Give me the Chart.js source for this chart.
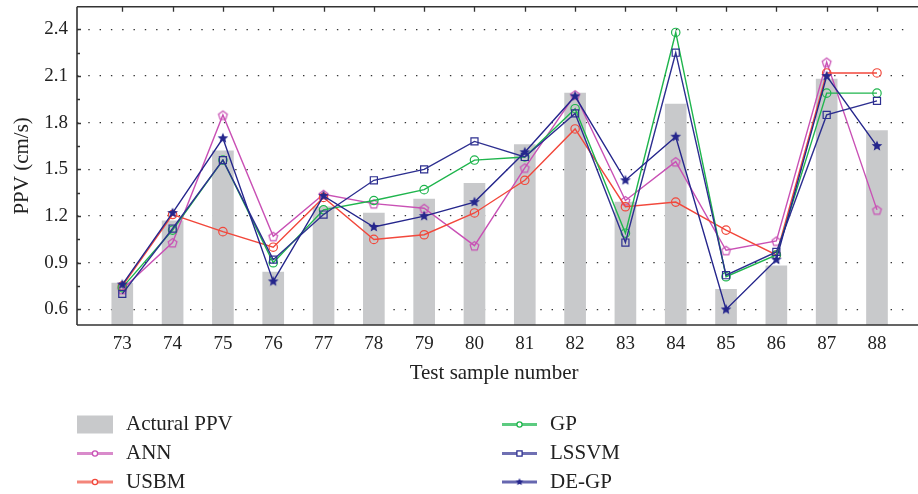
<!DOCTYPE html>
<html>
<head>
<meta charset="utf-8">
<script src="https://cdn.jsdelivr.net/npm/chart.js@4.4.1/dist/chart.umd.min.js"></script>
<style>
html,body{margin:0;padding:0;background:#fff;}
#wrap{width:918px;height:494px;position:relative;}
</style>
</head>
<body>
<div id="wrap"><canvas id="c" width="918" height="494"></canvas></div>
<script>
// ---- data ----
const samples = [73,74,75,76,77,78,79,80,81,82,83,84,85,86,87,88];
const actualPPV = [0.77,1.17,1.62,0.84,1.26,1.22,1.31,1.41,1.66,1.99,1.29,1.92,0.73,0.88,2.08,1.75];
const ann   = [0.73,1.03,1.85,1.07,1.34,1.28,1.25,1.01,1.51,1.98,1.30,1.55,0.98,1.04,2.19,1.24];
const usbm  = [0.75,1.21,1.10,1.00,1.32,1.05,1.08,1.22,1.43,1.76,1.26,1.29,1.11,0.95,2.12,2.12];
const gp    = [0.74,1.11,1.56,0.90,1.24,1.30,1.37,1.56,1.58,1.89,1.09,2.38,0.81,0.95,1.99,1.99];
const lssvm = [0.70,1.12,1.56,0.92,1.21,1.43,1.50,1.68,1.58,1.86,1.03,2.25,0.82,0.97,1.85,1.94];
const degp  = [0.76,1.22,1.70,0.78,1.33,1.13,1.20,1.29,1.61,1.97,1.43,1.71,0.60,0.92,2.10,1.65];
const yTicks = [0.6,0.9,1.2,1.5,1.8,2.1,2.4];
const yMinorTicks = [0.75,1.05,1.35,1.65,1.95,2.25];
const legendLabels = ['Actural PPV','ANN','USBM','GP','LSSVM','DE-GP'];

const FONT = '"Liberation Serif", "Times New Roman", serif';
const C = {
  bar:'#c8c9cb', ann:'#c951b5', usbm:'#f2483c', gp:'#1fb54d', lssvm:'#2d2f90', degp:'#25268c'
};
const CL = {ann:'#d98bcb', usbm:'#f4857a', gp:'#5ccb80', lssvm:'#6f70b3', degp:'#6667b0'};

function pts(arr){ return samples.map((x,i)=>({x:x,y:arr[i]})); }

function makeStar(color, R){
  const s = Math.ceil(R*2+2), cv = document.createElement('canvas');
  cv.width = s; cv.height = s;
  const g = cv.getContext('2d'); g.fillStyle = color; g.beginPath();
  for(let i=0;i<10;i++){
    const r = i%2===0 ? R : R*0.45;
    const a = -Math.PI/2 + i*Math.PI/5;
    const px = s/2 + r*Math.cos(a), py = s/2 + r*Math.sin(a);
    if(i===0) g.moveTo(px,py); else g.lineTo(px,py);
  }
  g.closePath(); g.fill();
  return cv;
}
function makePentagon(color, R){
  const s = Math.ceil(R*2+3), cv = document.createElement('canvas');
  cv.width = s; cv.height = s;
  const g = cv.getContext('2d'); g.strokeStyle = color; g.lineWidth = 1.2;
  g.beginPath();
  for(let i=0;i<5;i++){
    const a = -Math.PI/2 + i*2*Math.PI/5;
    const px = s/2 + R*Math.cos(a), py = s/2 + 0.6 + R*Math.sin(a);
    if(i===0) g.moveTo(px,py); else g.lineTo(px,py);
  }
  g.closePath(); g.stroke();
  return cv;
}
const starImg = makeStar(C.degp, 5.6);
const pentImg = makePentagon(C.ann, 4.6);

function lineDs(label, data, color, style, radius, order){
  return {
    type:'line', label:label, data:pts(data), borderColor:color, backgroundColor:'rgba(255,255,255,0)',
    borderWidth:1.4, pointStyle:style, pointRadius:radius, pointBorderColor:color,
    pointBackgroundColor:'rgba(255,255,255,0)', pointBorderWidth:1.2, tension:0, order:order, fill:false
  };
}

const decor = {
  id:'decor',
  afterDraw(chart){
    const ctx = chart.ctx, a = chart.chartArea, xs = chart.scales.x, ys = chart.scales.y;
    ctx.save();
    ctx.strokeStyle = '#333'; ctx.lineWidth = 1.6;
    ctx.beginPath();
    ctx.moveTo(a.left, a.top); ctx.lineTo(918, a.top);
    ctx.moveTo(a.left, a.top); ctx.lineTo(a.left, a.bottom);
    ctx.moveTo(a.left, a.bottom); ctx.lineTo(918, a.bottom);
    ctx.stroke();
    ctx.lineWidth = 1.3; ctx.strokeStyle = '#333';
    ctx.beginPath();
    samples.forEach(v=>{ const x = Math.round(xs.getPixelForValue(v))+0.5; ctx.moveTo(x,a.top); ctx.lineTo(x,a.top+5); });
    yTicks.forEach(v=>{ const y = Math.round(ys.getPixelForValue(v))+0.5; ctx.moveTo(a.left,y); ctx.lineTo(a.left+4,y); });
    yMinorTicks.forEach(v=>{ const y = Math.round(ys.getPixelForValue(v))+0.5; ctx.moveTo(a.left,y); ctx.lineTo(a.left+3,y); });
    ctx.stroke();

    // legend
    ctx.font = '21px ' + FONT; ctx.textBaseline = 'middle'; ctx.textAlign = 'left';
    const rows = [424.5, 453.5, 482];
    const col1 = {x0:77, x1:113, tx:126}, col2 = {x0:502, x1:537, tx:550};
    ctx.fillStyle = C.bar; ctx.fillRect(col1.x0, rows[0]-9, col1.x1-col1.x0, 18);
    const entries = [
      {col:col1,row:1,color:CL.ann,mk:'circle',mc:C.ann},
      {col:col1,row:2,color:CL.usbm,mk:'circle',mc:C.usbm},
      {col:col2,row:0,color:CL.gp,mk:'circle',mc:C.gp},
      {col:col2,row:1,color:CL.lssvm,mk:'rect',mc:C.lssvm},
      {col:col2,row:2,color:CL.degp,mk:'star',mc:C.degp}
    ];
    entries.forEach(e=>{
      const y = rows[e.row], cx = (e.col.x0+e.col.x1)/2;
      ctx.strokeStyle = e.color; ctx.lineWidth = 3;
      ctx.beginPath(); ctx.moveTo(e.col.x0,y); ctx.lineTo(e.col.x1,y); ctx.stroke();
      ctx.lineWidth = 1.3; ctx.strokeStyle = e.mc;
      if(e.mk==='circle'){ ctx.fillStyle='#fff'; ctx.beginPath(); ctx.arc(cx,y,2.6,0,Math.PI*2); ctx.fill(); ctx.stroke(); }
      else if(e.mk==='rect'){ ctx.fillStyle='#fff'; ctx.fillRect(cx-2.6,y-2.6,5.2,5.2); ctx.strokeRect(cx-2.6,y-2.6,5.2,5.2); }
      else { ctx.drawImage(makeStar(e.mc,4), cx-5, y-5); }
    });
    ctx.fillStyle = '#222';
    ctx.fillText(legendLabels[0], col1.tx, rows[0]);
    ctx.fillText(legendLabels[1], col1.tx, rows[1]);
    ctx.fillText(legendLabels[2], col1.tx, rows[2]);
    ctx.fillText(legendLabels[3], col2.tx, rows[0]);
    ctx.fillText(legendLabels[4], col2.tx, rows[1]);
    ctx.fillText(legendLabels[5], col2.tx, rows[2]);
    ctx.restore();
  }
};

new Chart(document.getElementById('c'), {
  data:{
    datasets:[
      {type:'bar', label:legendLabels[0], data:pts(actualPPV), backgroundColor:C.bar, barThickness:21, order:10},
      lineDs(legendLabels[1], ann, C.ann, pentImg, 4.6, 5),
      lineDs(legendLabels[2], usbm, C.usbm, 'circle', 4.2, 4),
      lineDs(legendLabels[3], gp, C.gp, 'circle', 4.2, 3),
      lineDs(legendLabels[4], lssvm, C.lssvm, 'rect', 5, 2),
      lineDs(legendLabels[5], degp, C.degp, starImg, 5.6, 1)
    ]
  },
  options:{
    responsive:false, animation:false,
    layout:{padding:{left:0, right:1, top:6, bottom:100}},
    plugins:{legend:{display:false}, tooltip:{enabled:false}},
    scales:{
      x:{
        type:'linear', min:72.1, max:88.68, offset:false,
        afterBuildTicks:s=>{ s.ticks = samples.map(v=>({value:v})); },
        afterFit:s=>{ s.height = 69; s.paddingLeft = 0; s.paddingRight = 0; },
        grid:{display:false, drawTicks:false}, border:{display:false},
        ticks:{font:{family:FONT,size:19}, color:'#222', padding:8, maxRotation:0, autoSkip:false},
        title:{display:true, text:'Test sample number', font:{family:FONT,size:21}, color:'#222', padding:{top:0,bottom:8}}
      },
      y:{
        min:0.5, max:2.545,
        afterBuildTicks:s=>{ s.ticks = yTicks.map(v=>({value:v})); },
        afterFit:s=>{ s.width = 77; s.paddingTop = 0; s.paddingBottom = 0; },
        grid:{drawTicks:false, color:'#333', lineWidth:1.2},
        border:{display:false, dash:[1.4,9.9]},
        ticks:{font:{family:FONT,size:19}, color:'#222', padding:9, callback:v=>v.toFixed(1)},
        title:{display:true, text:'PPV (cm/s)', font:{family:FONT,size:21}, color:'#222', padding:{top:10,bottom:0}}
      }
    }
  },
  plugins:[decor]
});
</script>
</body>
</html>
